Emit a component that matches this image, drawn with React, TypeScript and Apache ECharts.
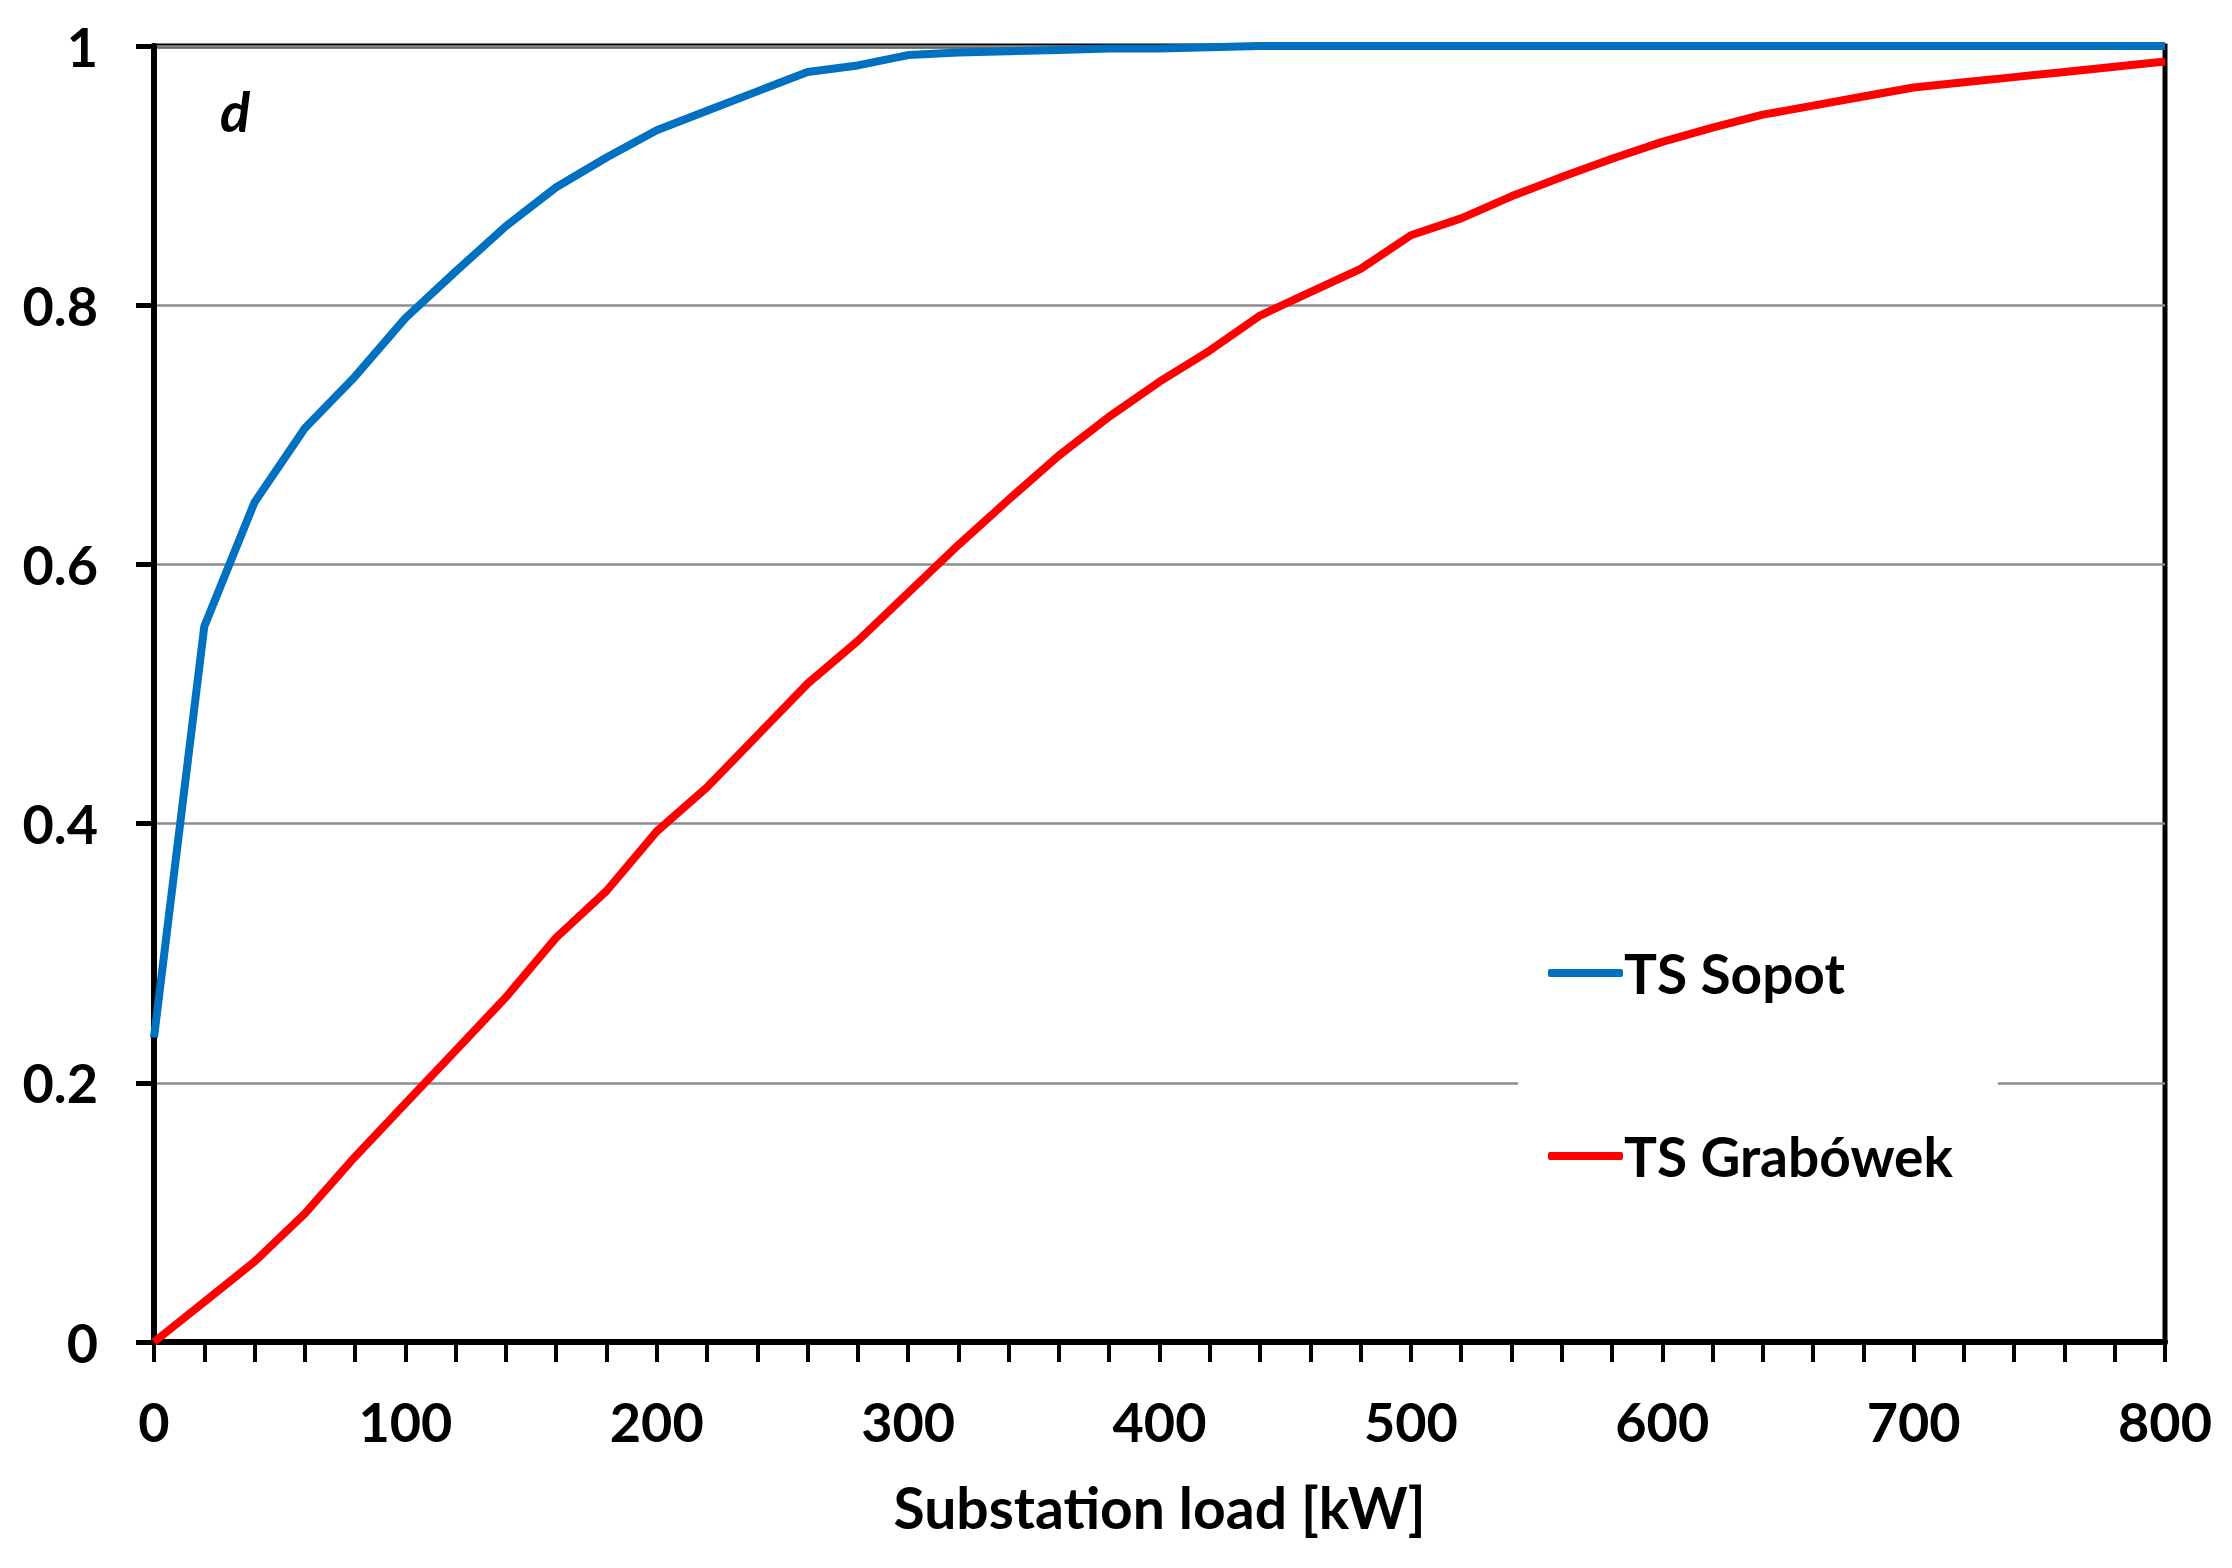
import React, { useEffect, useRef } from "react";
import * as echarts from "echarts";

const loadKW = [0, 20, 40, 60, 80, 100, 120, 140, 160, 180, 200, 220, 240, 260, 280, 300, 320, 340, 360, 380, 400, 420, 440, 460, 480, 500, 520, 540, 560, 580, 600, 620, 640, 660, 680, 700, 720, 740, 760, 780, 800];
const sopot = [0.235, 0.552, 0.648, 0.705, 0.745, 0.79, 0.826, 0.861, 0.891, 0.914, 0.935, 0.95, 0.965, 0.98, 0.985, 0.993, 0.995, 0.996, 0.997, 0.998, 0.998, 0.999, 1, 1, 1, 1, 1, 1, 1, 1, 1, 1, 1, 1, 1, 1, 1, 1, 1, 1, 1];
const grabowek = [0, 0.031, 0.062, 0.099, 0.143, 0.184, 0.225, 0.266, 0.312, 0.348, 0.394, 0.428, 0.468, 0.508, 0.541, 0.578, 0.615, 0.65, 0.684, 0.714, 0.741, 0.765, 0.792, 0.81, 0.828, 0.854, 0.867, 0.884, 0.899, 0.913, 0.926, 0.937, 0.947, 0.954, 0.961, 0.968, 0.972, 0.976, 0.98, 0.984, 0.988];
const seriesNames = ["TS Sopot", "TS Grabówek"];
const xAxisTitle = "Substation load [kW]";
const panelLabel = "d";

const FONT = "Lato";

export default function App() {
  const ref = useRef<HTMLDivElement>(null);
  useEffect(() => {
    document.body.style.margin = "0";
    const chart = echarts.init(ref.current!, null, { renderer: "svg" });
    chart.setOption({
      animation: false,
      backgroundColor: "#ffffff",
      grid: {
        left: 154,
        top: 46,
        right: 67,
        bottom: 226,
        show: true,
        borderColor: "#000000",
        borderWidth: 5,
        backgroundColor: "transparent",
      },
      xAxis: {
        type: "value",
        min: 0,
        max: 800,
        interval: 20,
        name: xAxisTitle,
        nameLocation: "middle",
        nameGap: 136,
        nameTextStyle: { fontFamily: FONT, fontWeight: "bold", fontSize: 57, color: "#000" },
        axisLine: { show: true, onZero: false, lineStyle: { color: "#000", width: 6 } },
        axisTick: { show: true, inside: false, length: 20, lineStyle: { color: "#000", width: 4 } },
        axisLabel: {
          margin: 52,
          fontFamily: FONT,
          fontWeight: "bold",
          fontSize: 54,
          color: "#000",
          formatter: (v: number) => (v % 100 === 0 ? String(v) : ""),
        },
        splitLine: { show: false },
      },
      yAxis: {
        type: "value",
        min: 0,
        max: 1,
        interval: 0.2,
        axisLine: { show: true, lineStyle: { color: "#000", width: 6 } },
        axisTick: { show: true, inside: false, length: 18, lineStyle: { color: "#000", width: 5 } },
        axisLabel: {
          margin: 56,
          fontFamily: FONT,
          fontWeight: "bold",
          fontSize: 54,
          color: "#000",
        },
        splitLine: { show: true, lineStyle: { color: "#8c8c8c", width: 2.5 } },
      },
      legend: {
        orient: "vertical",
        left: 1518,
        top: 900,
        padding: [43, 45, 43, 30],
        backgroundColor: "#ffffff",
        itemGap: 123,
        itemWidth: 75,
        itemHeight: 8,
        icon: "roundRect",
        textStyle: { fontFamily: FONT, fontWeight: "bold", fontSize: 55, color: "#000", lineHeight: 60, padding: [0, 0, 0, -4] },
        data: seriesNames,
      },
      graphic: [
        {
          type: "text",
          left: 220,
          top: 82,
          style: { text: panelLabel, font: `italic bold 56px ${FONT}`, fill: "#000" },
          z: 10,
        },
      ],
      series: [
        {
          name: seriesNames[0],
          type: "line",
          showSymbol: false,
          symbol: "none",
          data: loadKW.map((x, i) => [x, sopot[i]]),
          lineStyle: { color: "#0070C0", width: 8 },
          itemStyle: { color: "#0070C0" },
          z: 3,
        },
        {
          name: seriesNames[1],
          type: "line",
          showSymbol: false,
          symbol: "none",
          data: loadKW.map((x, i) => [x, grabowek[i]]),
          lineStyle: { color: "#FF0000", width: 8 },
          itemStyle: { color: "#FF0000" },
          z: 3,
        },
      ],
    });
    return () => chart.dispose();
  }, []);
  return <div ref={ref} style={{ width: 2232, height: 1568 }} />;
}
